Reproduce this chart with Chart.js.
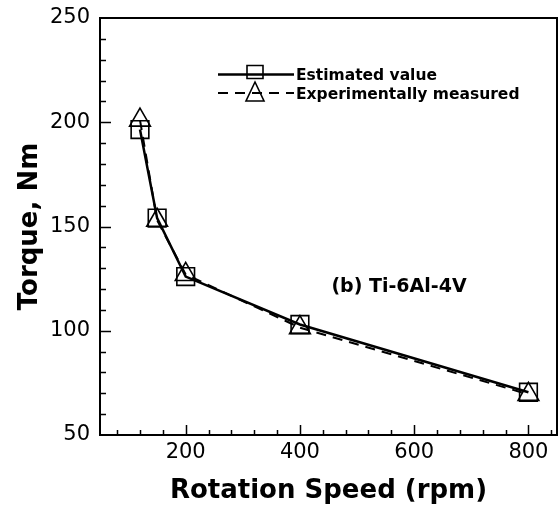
<!DOCTYPE html>
<html lang="en">
  <head>
    <meta charset="UTF-8" />
    <title>Torque vs Rotation Speed</title>
    <style>
      html, body {
        margin: 0;
        padding: 0;
        overflow: hidden;
        background: #ffffff;
      }
      .chart-container {
        position: relative;
        width: 560px;
        height: 514px;
      }
      canvas {
        display: block;
      }
    </style>
  </head>
  <body>
    <div class="chart-container">
      <canvas id="torqueChart"></canvas>
    </div>
    <script src="https://cdn.jsdelivr.net/npm/chart.js"></script>
    <script>
      // data
      var speeds = [120, 150, 200, 400, 800];
      var estimated = [196.5, 154, 126, 103, 70.5];
      var measured = [201, 153, 127, 101.5, 69.5];

      var xTicks = [200, 400, 600, 800];
      var yTicks = [50, 100, 150, 200, 250];
      var xMinorStep = 40;
      var yMinorStep = 10;

      var seriesNames = ["Estimated value", "Experimentally measured"];
      var panelLabel = "(b) Ti-6Al-4V";

      function toPoints(ys) {
        return speeds.map(function (x, i) {
          return { x: x, y: ys[i] };
        });
      }

      function noPadding(scale) {
        scale.paddingTop = 0;
        scale.paddingBottom = 0;
        scale.paddingLeft = 0;
        scale.paddingRight = 0;
      }

      // frame, inward ticks, legend and panel label
      var framePlugin = {
        id: "frame",
        afterDraw: function (chart) {
          var ctx = chart.ctx;
          var area = chart.chartArea;
          var xs = chart.scales.x;
          var ys = chart.scales.y;
          ctx.save();
          ctx.strokeStyle = "#000";
          ctx.lineWidth = 2;
          ctx.strokeRect(area.left, area.top, area.right - area.left, area.bottom - area.top);

          ctx.lineWidth = 1.5;
          ctx.beginPath();
          var v, p;
          for (v = Math.ceil(xs.min / xMinorStep) * xMinorStep; v < xs.max; v += xMinorStep) {
            p = Math.round(xs.getPixelForValue(v)) + 0.5;
            var len = xTicks.indexOf(v) >= 0 ? 10 : 5;
            ctx.moveTo(p, area.bottom);
            ctx.lineTo(p, area.bottom - len);
          }
          for (v = ys.min + yMinorStep; v < ys.max; v += yMinorStep) {
            p = Math.round(ys.getPixelForValue(v)) + 0.5;
            var ylen = yTicks.indexOf(v) >= 0 ? 11 : 6;
            ctx.moveTo(area.left, p);
            ctx.lineTo(area.left + ylen, p);
          }
          ctx.stroke();

          // legend
          var rows = [74.5, 93];
          chart.data.datasets.forEach(function (ds, i) {
            var y = rows[i];
            ctx.lineWidth = ds.borderWidth;
            ctx.setLineDash(ds.borderDash || []);
            ctx.beginPath();
            ctx.moveTo(218, y);
            ctx.lineTo(294, y);
            ctx.stroke();
            ctx.setLineDash([]);
            ctx.lineWidth = ds.pointBorderWidth;
            var cx = 255;
            ctx.beginPath();
            if (ds.pointStyle === "rect") {
              ctx.rect(cx - 8, y - 9, 16, 13);
            } else {
              ctx.moveTo(cx, y - 11);
              ctx.lineTo(cx + 9, y + 8);
              ctx.lineTo(cx - 9, y + 8);
              ctx.closePath();
            }
            ctx.stroke();
            ctx.fillStyle = "#000";
            ctx.font = "bold 15.5px 'DejaVu Sans'";
            ctx.textAlign = "left";
            ctx.textBaseline = "middle";
            ctx.fillText(seriesNames[i], 296, y + 1.5);
          });

          ctx.font = "bold 19px 'DejaVu Sans'";
          ctx.textAlign = "center";
          ctx.textBaseline = "middle";
          ctx.fillText(panelLabel, 399, 287);
          ctx.restore();
        },
      };

      var ctxTorque = document.getElementById("torqueChart").getContext("2d");
      var torqueChart = new Chart(ctxTorque, {
        type: "line",
        data: {
          datasets: [
            {
              label: seriesNames[0],
              data: toPoints(estimated),
              borderColor: "#000",
              borderWidth: 2.5,
              pointStyle: "rect",
              pointRadius: 12.5,
              pointBorderWidth: 1.6,
              pointBorderColor: "#000",
              pointBackgroundColor: "rgba(0,0,0,0)",
              tension: 0,
            },
            {
              label: seriesNames[1],
              data: toPoints(measured),
              borderColor: "#000",
              borderWidth: 2,
              borderDash: [10, 7],
              pointStyle: "triangle",
              pointRadius: 12,
              pointBorderWidth: 1.6,
              pointBorderColor: "#000",
              pointBackgroundColor: "rgba(0,0,0,0)",
              tension: 0,
            },
          ],
        },
        options: {
          responsive: true,
          maintainAspectRatio: false,
          animation: false,
          layout: {
            autoPadding: false,
            padding: { top: 18, right: 3, left: 0, bottom: 0 },
          },
          plugins: {
            legend: { display: false },
            tooltip: { enabled: false },
          },
          scales: {
            x: {
              type: "linear",
              min: 50,
              max: 850,
              afterBuildTicks: function (scale) {
                scale.ticks = xTicks.map(function (v) {
                  return { value: v };
                });
              },
              afterFit: function (scale) {
                scale.height = 79;
                noPadding(scale);
              },
              grid: { display: false, drawTicks: false },
              border: { display: false },
              ticks: {
                color: "#000",
                padding: 5,
                maxRotation: 0,
                font: { family: "DejaVu Sans", size: 21 },
              },
              title: {
                display: true,
                text: "Rotation Speed (rpm)",
                color: "#000",
                padding: { top: 0, bottom: 7 },
                font: { family: "DejaVu Sans", size: 26, weight: "bold" },
              },
            },
            y: {
              type: "linear",
              min: 50,
              max: 250,
              afterBuildTicks: function (scale) {
                scale.ticks = yTicks.map(function (v) {
                  return { value: v };
                });
              },
              afterFit: function (scale) {
                scale.width = 100;
                noPadding(scale);
              },
              grid: { display: false, drawTicks: false },
              border: { display: false },
              ticks: {
                color: "#000",
                padding: 10,
                font: { family: "DejaVu Sans", size: 21 },
              },
              title: {
                display: true,
                text: "Torque, Nm",
                color: "#000",
                padding: { top: 15, bottom: 0 },
                font: { family: "DejaVu Sans", size: 26, weight: "bold" },
              },
            },
          },
        },
        plugins: [framePlugin],
      });
    </script>
  </body>
</html>
